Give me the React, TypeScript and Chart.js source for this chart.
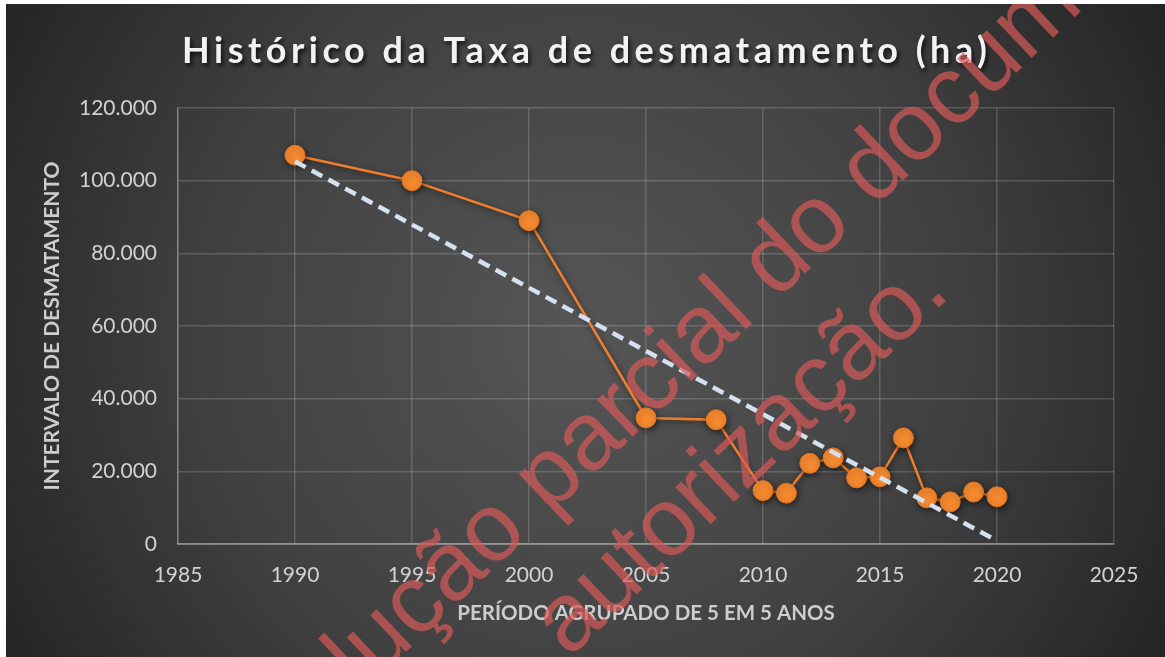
import React, { useEffect, useRef } from 'react';
import { Chart, registerables } from 'chart.js';

Chart.register(...registerables);

// ---- data ----
const TITLE = 'Histórico da Taxa de desmatamento (ha)';
const X_TITLE = 'PERÍODO AGRUPADO DE 5 EM 5 ANOS';
const Y_TITLE = 'INTERVALO DE DESMATAMENTO';

const years = [1990, 1995, 2000, 2005, 2008, 2010, 2011, 2012, 2013, 2014, 2015, 2016, 2017, 2018, 2019, 2020];
const values = [107000, 100000, 89000, 34700, 34200, 14700, 14000, 22200, 23700, 18200, 18500, 29200, 12700, 11600, 14300, 13000];

// linear trendline end points (as drawn in the reference)
const trendYears = [1990, 2020];
const trendValues = [105300, 900];

const xMin = 1985;
const xMax = 2025;
const xStep = 5;
const yMin = 0;
const yMax = 120000;
const yStep = 20000;

const WATERMARK_LINE1 = 'Proibida a reprodução parcial do documento sem';
const WATERMARK_PREFIX = 'Proibida a reprodução ';
const WATERMARK_LINE2 = 'autorização.';

const W = 1159;
const H = 653;

const fmtThousands = (v: number) => String(Math.round(v)).replace(/\B(?=(\d{3})+(?!\d))/g, '.');

const backgroundPlugin = {
  id: 'bgAndTitle',
  beforeDraw(chart: any) {
    const { ctx } = chart;
    ctx.save();
    const g = ctx.createRadialGradient(575, 330, 0, 575, 330, 690);
    g.addColorStop(0, '#565656');
    g.addColorStop(0.55, '#404040');
    g.addColorStop(1, '#222222');
    ctx.fillStyle = g;
    ctx.fillRect(0, 0, chart.width, chart.height);

    // title
    ctx.font = 'bold 36px Lato';
    ctx.letterSpacing = '0px';
    const base = ctx.measureText(TITLE).width;
    const spacing = Math.max(0, (805 - base) / (TITLE.length - 1));
    ctx.letterSpacing = spacing.toFixed(2) + 'px';
    ctx.textAlign = 'left';
    ctx.textBaseline = 'alphabetic';
    ctx.fillStyle = '#f2f2f2';
    ctx.shadowColor = 'rgba(0,0,0,0.75)';
    ctx.shadowBlur = 4;
    ctx.shadowOffsetX = 2;
    ctx.shadowOffsetY = 3;
    ctx.fillText(TITLE, 176, 59);
    ctx.restore();
  },
};

const seriesShadowPlugin = {
  id: 'seriesShadow',
  beforeDatasetDraw(chart: any, args: any) {
    if (args.index === 1) {
      const { ctx } = chart;
      ctx.save();
      ctx.shadowColor = 'rgba(0,0,0,0.55)';
      ctx.shadowBlur = 6;
      ctx.shadowOffsetX = 1;
      ctx.shadowOffsetY = 2;
    }
  },
  afterDatasetDraw(chart: any, args: any) {
    if (args.index === 1) chart.ctx.restore();
  },
};

const watermarkPlugin = {
  id: 'watermark',
  afterDraw(chart: any) {
    const { ctx } = chart;
    ctx.save();
    ctx.font = '97px "Liberation Sans"';
    ctx.fillStyle = 'rgba(215,88,88,0.7)';
    ctx.textAlign = 'left';
    ctx.textBaseline = 'alphabetic';
    const pre = ctx.measureText(WATERMARK_PREFIX).width;
    ctx.translate(543.6, 511.7);
    ctx.rotate((-43.5 * Math.PI) / 180);
    ctx.fillText(WATERMARK_LINE1, -pre, 0);
    ctx.fillText(WATERMARK_LINE2, -84.5, 117);
    ctx.restore();
  },
};

export default function App() {
  const ref = useRef<HTMLCanvasElement | null>(null);

  useEffect(() => {
    if (!ref.current) return;
    const gridColor = 'rgba(255,255,255,0.17)';
    const tickColor = '#d2d2d2';
    const titleColor = '#cdcdcd';

    const chart = new Chart(ref.current, {
      type: 'scatter',
      data: {
        datasets: [
          {
            label: 'Linear (tendência)',
            data: trendYears.map((x, i) => ({ x, y: trendValues[i] })),
            showLine: true,
            borderColor: '#d4e1f0',
            borderWidth: 4.5,
            borderDash: [12, 7],
            pointRadius: 0,
            order: 0,
          },
          {
            label: 'Taxa de desmatamento',
            data: years.map((x, i) => ({ x, y: values[i] })),
            showLine: true,
            borderColor: '#F07E2C',
            borderWidth: 2.5,
            pointRadius: 10,
            pointBackgroundColor: '#F68A2E',
            pointBorderColor: '#E27322',
            pointBorderWidth: 1,
            order: 1,
          },
        ],
      },
      options: {
        responsive: false,
        animation: false,
        devicePixelRatio: 1,
        layout: { padding: { left: 0, right: 51, top: 104, bottom: 0 } },
        plugins: {
          legend: { display: false },
          tooltip: { enabled: false },
          title: { display: false },
        },
        scales: {
          x: {
            type: 'linear',
            min: xMin,
            max: xMax,
            ticks: {
              stepSize: xStep,
              color: tickColor,
              font: { family: 'Lato', size: 21 },
              padding: 19,
              callback: (v: any) => String(v),
            },
            grid: { color: gridColor, lineWidth: 1.5, drawTicks: false },
            border: { color: 'rgba(255,255,255,0.3)', width: 2 },
            title: {
              display: true,
              text: X_TITLE,
              color: titleColor,
              font: { family: 'Lato', size: 20.5, weight: 'bold' },
              padding: { top: 0, bottom: 31 },
            },
            afterFit: (s: any) => {
              s.height = 113;
            },
          },
          y: {
            min: yMin,
            max: yMax,
            ticks: {
              stepSize: yStep,
              color: tickColor,
              font: { family: 'Lato', size: 21 },
              padding: 21,
              callback: (v: any) => fmtThousands(Number(v)),
            },
            grid: { color: gridColor, lineWidth: 1.5, drawTicks: false },
            border: { color: 'rgba(255,255,255,0.25)', width: 1.5 },
            title: {
              display: true,
              text: Y_TITLE,
              color: titleColor,
              font: { family: 'Lato', size: 21, weight: 'bold' },
              padding: { top: 34, bottom: 0 },
            },
            afterFit: (s: any) => {
              s.width = 172;
            },
          },
        },
      },
      plugins: [backgroundPlugin, seriesShadowPlugin, watermarkPlugin],
    } as any);

    return () => chart.destroy();
  }, []);

  return (
    <div style={{ position: 'fixed', left: 6, top: 4, width: W, height: H, background: '#262626' }}>
      <canvas ref={ref} width={W} height={H} style={{ display: 'block', width: W, height: H }} />
    </div>
  );
}
